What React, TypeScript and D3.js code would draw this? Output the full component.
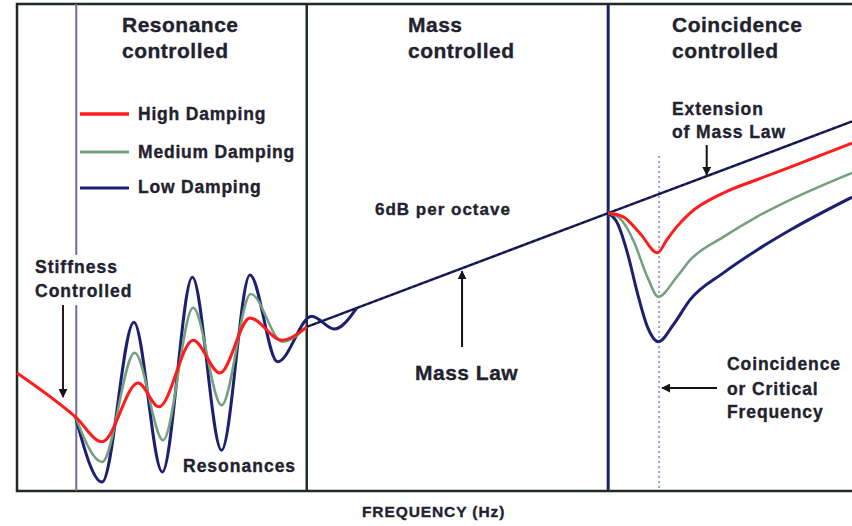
import React, { useEffect } from 'react';
import * as d3 from 'd3';

type Pt = [number, number];

// x = octaves from the left edge of the plot, y = transmission loss (dB)
const regionEdges = [0.71, 3.47, 7.08];
const criticalFreq = 7.69;

const massLaw: Pt[] = [[3.47, 31.0], [7.08, 52.5]];
const massLawExt: Pt[] = [[7.08, 52.5], [10, 69.8]];

// resonance-controlled part (stiffness slope included in the high damping curve)
const highDamping: Pt[] = [
  [0, 22.3], [0.7, 14.0], [1.02, 9.3], [1.45, 20.4], [1.7, 15.9], [2.11, 28.5],
  [2.43, 22.3], [2.79, 32.7], [3.17, 28.5], [3.47, 31.0],
];
const mediumDamping: Pt[] = [
  [0.7, 14.0], [1.02, 5.5], [1.41, 26.1], [1.75, 9.6], [2.11, 34.6],
  [2.45, 16.2], [2.8, 37.2], [3.18, 28.2], [3.47, 31.0],
];
const lowDamping: Pt[] = [
  [0.7, 14.0], [1.02, 1.7], [1.4, 31.9], [1.74, 3.6], [2.1, 40.4],
  [2.45, 7.7], [2.79, 40.8], [3.12, 24.4], [3.53, 33.0], [3.8, 30.6], [4.07, 34.6],
];

// coincidence-controlled part
const highCoinc: Pt[] = [
  [7.08, 52.5], [7.26, 51.8], [7.46, 48.7], [7.67, 45.0], [7.78, 47.4], [7.9, 49.9],
  [8.06, 52.5], [8.46, 56.3], [8.86, 58.8], [9.26, 61.2], [10, 65.7],
];
const mediumCoinc: Pt[] = [
  [7.08, 52.5], [7.22, 51.5], [7.38, 47.4], [7.55, 40.4], [7.68, 36.7], [7.9, 40.4],
  [8.06, 43.6], [8.46, 48.0], [8.86, 51.8], [9.26, 55.0], [10, 60.1],
];
const lowCoinc: Pt[] = [
  [7.08, 52.5], [7.19, 50.6], [7.31, 45.0], [7.43, 37.4], [7.55, 31.0], [7.68, 28.2],
  [7.86, 31.4], [8.06, 36.1], [8.46, 41.2], [8.86, 45.5], [9.26, 49.3], [10, 55.5],
];

const legendLabels = ['High Damping', 'Medium Damping', 'Low Damping'];
const seriesColors = ['#ff1c1c', '#74a07d', '#1d2070'];
const regionTitles = [['Resonance', 'controlled'], ['Mass', 'controlled'], ['Coincidence', 'controlled']];

const W = 852;
const H = 526;
const FONT = "'Liberation Sans', Arial, sans-serif";
const TEXT = '#22222e';

export default function App() {
  useEffect(() => {
    document.body.style.margin = '0';
  }, []);

  const x = d3.scaleLinear().domain([0, 10]).range([17, 852]);
  const y = d3.scaleLinear().domain([0, 92]).range([491, 4]);
  const line = d3
    .line<Pt>()
    .x(d => x(d[0]))
    .y(d => y(d[1]))
    .curve(d3.curveMonotoneX);
  const straight = d3
    .line<Pt>()
    .x(d => x(d[0]))
    .y(d => y(d[1]));

  const massAt = (f: number) => 31.0 + ((52.5 - 31.0) / (7.08 - 3.47)) * (f - 3.47);

  const txt = (props: any, s: string, size = 17.5, ls = 0.9) => (
    <text
      fontFamily={FONT}
      fontWeight="bold"
      fontSize={size}
      letterSpacing={ls}
      fill={TEXT}
      stroke={TEXT}
      strokeWidth={0.35}
      {...props}
    >
      {s}
    </text>
  );

  const titleX = [122, 408, 672];
  const resSeries = [lowDamping, mediumDamping, highDamping];
  const coincSeries = [lowCoinc, mediumCoinc, highCoinc];
  const resColors = [seriesColors[2], seriesColors[1], seriesColors[0]];
  const widths = [3, 2.5, 3];

  return (
    <svg width={W} height={H} style={{ display: 'block', background: '#fff' }}>
      <defs>
        <marker id="ah" viewBox="0 0 10 10" refX="9" refY="5" markerWidth="4.5" markerHeight="4.5" orient="auto">
          <path d="M0,0 L10,5 L0,10 z" fill="#1a1418" />
        </marker>
      </defs>

      {/* frame */}
      <path
        d={`M${W},${y(92)} H${x(0)} V${y(0)} H${W}`}
        fill="none"
        stroke="#1f2b22"
        strokeWidth={2.5}
      />

      {/* region dividers */}
      <line x1={x(regionEdges[0])} x2={x(regionEdges[0])} y1={y(92)} y2={y(44.6)} stroke="#6c6ca2" strokeWidth={2} />
      <line x1={x(regionEdges[0])} x2={x(regionEdges[0])} y1={y(35.1)} y2={y(0)} stroke="#6c6ca2" strokeWidth={2} />
      <line x1={x(regionEdges[1])} x2={x(regionEdges[1])} y1={y(92)} y2={y(0)} stroke="#1f2e22" strokeWidth={2.5} />
      <line x1={x(regionEdges[2])} x2={x(regionEdges[2])} y1={y(92)} y2={y(0)} stroke="#1c2270" strokeWidth={3} />
      <line
        x1={x(criticalFreq)}
        x2={x(criticalFreq)}
        y1={y(63.3)}
        y2={y(0)}
        stroke="#9c9cd6"
        strokeWidth={2}
        strokeDasharray="2,3"
      />

      {/* region titles */}
      {regionTitles.map((t, i) => (
        <g key={i}>
          {txt({ x: titleX[i], y: 32 }, t[0], 21, 0.5)}
          {txt({ x: titleX[i], y: 58 }, t[1], 21, 0.5)}
        </g>
      ))}

      {/* legend */}
      {legendLabels.map((l, i) => (
        <g key={l}>
          <line
            x1={80}
            x2={129}
            y1={[114, 152, 188][i]}
            y2={[114, 152, 188][i]}
            stroke={seriesColors[i]}
            strokeWidth={i === 0 ? 3.5 : 3}
          />
          {txt({ x: 138, y: [120, 158, 193][i] }, l, 17.5, 0.8)}
        </g>
      ))}

      {/* mass law + extension */}
      {[massLaw, massLawExt].map((d, i) => (
        <g key={i}>
          <path d={straight(d) || ''} fill="none" stroke="#1c2270" strokeWidth={2.5} />
          <path d={straight(d) || ''} fill="none" stroke="#111" strokeWidth={1.3} strokeDasharray="3,3" />
        </g>
      ))}

      {/* damping curves */}
      {resSeries.map((d, i) => (
        <path key={'r' + i} d={line(d) || ''} fill="none" stroke={resColors[i]} strokeWidth={widths[i]} strokeLinejoin="round" />
      ))}
      {coincSeries.map((d, i) => (
        <path key={'c' + i} d={line(d) || ''} fill="none" stroke={resColors[i]} strokeWidth={widths[i]} strokeLinejoin="round" />
      ))}

      {/* annotations */}
      {txt({ x: 35, y: 273 }, 'Stiffness', 17.5, 1)}
      {txt({ x: 35, y: 297 }, 'Controlled', 17.5, 1)}
      <line x1={63} x2={63} y1={305} y2={397} stroke="#2b1820" strokeWidth={2} markerEnd="url(#ah)" />

      {txt({ x: 183, y: 472 }, 'Resonances', 17.5, 1)}

      {txt({ x: 375, y: 215 }, '6dB per octave', 17, 1)}

      {txt({ x: 415, y: 380 }, 'Mass Law', 21, 0.5)}
      <line x1={x(5.33)} x2={x(5.33)} y1={347} y2={y(massAt(5.33)) + 3} stroke="#111" strokeWidth={2} markerEnd="url(#ah)" />

      {txt({ x: 672, y: 115 }, 'Extension')}
      {txt({ x: 672, y: 138 }, 'of Mass Law')}
      <line x1={x(8.26)} x2={x(8.26)} y1={145} y2={y(massAt(8.26)) - 1} stroke="#111" strokeWidth={2} markerEnd="url(#ah)" />

      {txt({ x: 727, y: 370 }, 'Coincidence')}
      {txt({ x: 727, y: 395 }, 'or Critical')}
      {txt({ x: 727, y: 418 }, 'Frequency')}
      <line x1={717} x2={x(criticalFreq) + 3} y1={388} y2={388} stroke="#111" strokeWidth={2} markerEnd="url(#ah)" />

      {txt({ x: 362, y: 517 }, 'FREQUENCY (Hz)', 15.5, 0.9)}
    </svg>
  );
}
